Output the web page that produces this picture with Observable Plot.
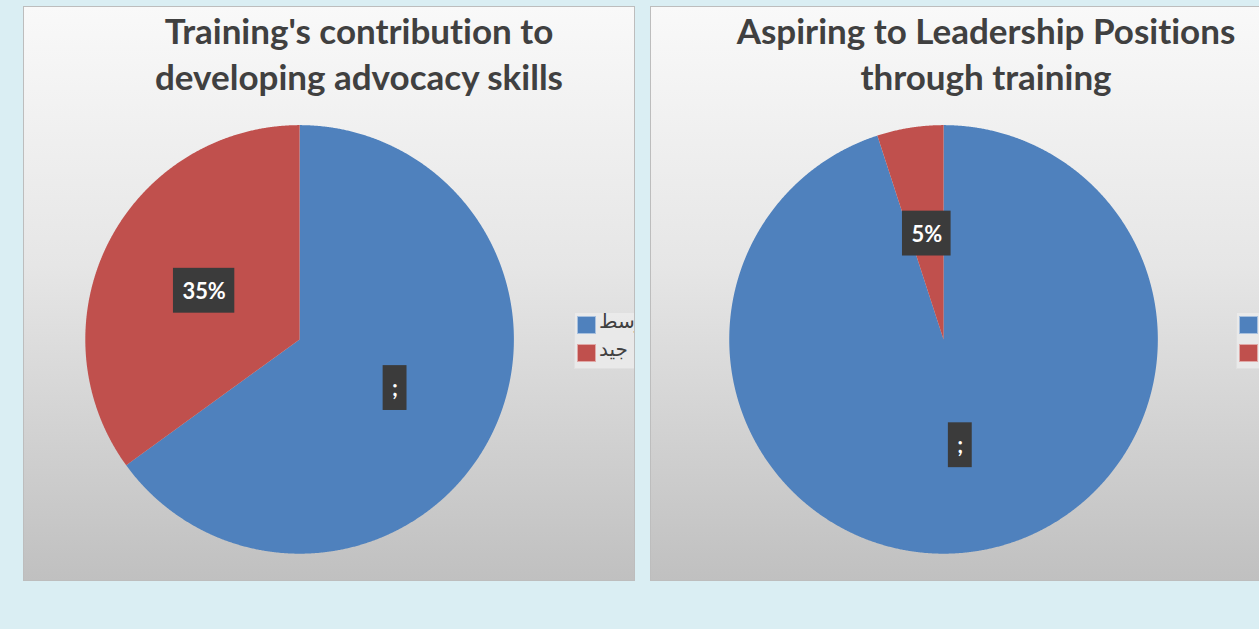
<!DOCTYPE html>
<html>
<head>
<meta charset="utf-8">
<script src="https://cdn.jsdelivr.net/npm/d3@7"></script>
<script src="https://cdn.jsdelivr.net/npm/@observablehq/plot@0.6"></script>
<style>
  html, body { margin: 0; padding: 0; }
  body { width: 1259px; height: 629px; background: #daeef3; position: relative; overflow: hidden; font-family: Lato, "Open Sans", sans-serif; }
  .panel { position: absolute; top: 6px; height: 575px; box-sizing: border-box; border: 1px solid #bdbdbd;
           background: linear-gradient(to bottom, #f9f9f9 0%, #e6e6e6 45%, #c0c0c0 100%); overflow: hidden; }
  .panel svg { position: absolute; left: 0; top: 0; }
  .title { position: absolute; top: 0px; width: 640px; text-align: center; font-weight: 700; font-size: 35px;
           line-height: 46px; color: #404040; white-space: nowrap; font-variant-ligatures: none; }
  .legend { position: absolute; background: rgba(235,235,235,0.85); border: 1px solid #e0e0e0; box-sizing: border-box; padding: 2px 0 0 2px; }
  .legend .item { position: relative; height: 28px; white-space: nowrap; }
  .legend .sw { position: absolute; left: 0; top: 1px; width: 19px; height: 18px; box-sizing: border-box; border: 1px solid rgba(255,255,255,0.5); }
  .legend .lab { position: absolute; left: 22px; top: -6px; font-family: "DejaVu Sans", "Noto Sans", sans-serif; font-size: 20px; color: #404040; direction: rtl; unicode-bidi: plaintext; }
</style>
</head>
<body>
<script>
// ---- data ----
const categories = ["متوسط", "جيد"];
const sliceColors = ["#4f81bd", "#c0504d"];
const advocacyTitle = ["Training's contribution to", "developing advocacy skills"];
const advocacyShares = [65, 35];
const advocacyLabels = [";", "35%"];
const leadershipTitle = ["Aspiring to Leadership Positions", "through training"];
const leadershipShares = [95, 5];
const leadershipLabels = [";", "5%"];

// ---- layout (styles, not data) ----
const panelW = 612, panelH = 575, radius = 215;
const panels = [
  {left: 23, title: advocacyTitle, shares: advocacyShares, labels: advocacyLabels, cx: 276, cy: 333, legendX: 550, legendW: 100},
  {left: 650, title: leadershipTitle, shares: leadershipShares, labels: leadershipLabels, cx: 293, cy: 333, legendX: 585, legendW: 100}
];

const measureCtx = document.createElement("canvas").getContext("2d");
measureCtx.font = "700 22px Lato";

function buildPanel(p) {
  const div = document.createElement("div");
  div.className = "panel";
  div.style.left = p.left + "px";
  div.style.width = panelW + "px";
  document.body.appendChild(div);

  const total = d3.sum(p.shares);
  // slice polygons from shares
  const slices = [];
  const labelRows = [];
  let acc = 0;
  p.shares.forEach((v, i) => {
    const a0 = acc / total * 2 * Math.PI;
    acc += v;
    const a1 = acc / total * 2 * Math.PI;
    const pts = [{k: i, x: 0, y: 0, color: sliceColors[i]}];
    const n = Math.max(2, Math.ceil((a1 - a0) / (Math.PI / 720)));
    for (let j = 0; j <= n; j++) {
      const a = a0 + (a1 - a0) * j / n;
      pts.push({k: i, x: Math.sin(a), y: Math.cos(a), color: sliceColors[i]});
    }
    pts.push({k: i, x: 0, y: 0, color: sliceColors[i]});
    slices.push(...pts);
    const am = (a0 + a1) / 2;
    const lx = 0.5 * Math.sin(am), ly = 0.5 * Math.cos(am);
    const wPx = measureCtx.measureText(p.labels[i]).width + 18;
    const hPx = 45;
    labelRows.push({text: p.labels[i], x: lx, y: ly,
      x1: lx - wPx / 2 / radius, x2: lx + wPx / 2 / radius,
      y1: ly - hPx / 2 / radius, y2: ly + hPx / 2 / radius});
  });

  const svg = Plot.plot({
    width: panelW, height: panelH,
    margin: 0,
    style: {background: "transparent", overflow: "visible"},
    x: {domain: [-1, 1], range: [p.cx - radius, p.cx + radius], axis: null},
    y: {domain: [-1, 1], range: [p.cy + radius, p.cy - radius], axis: null},
    color: {type: "identity"},
    marks: [
      Plot.line(slices, {x: "x", y: "y", z: "k", fill: "color", stroke: "none", curve: "linear"}),
      Plot.rect(labelRows, {x1: "x1", x2: "x2", y1: "y1", y2: "y2", fill: "#3b3b3b"}),
      Plot.text(labelRows, {x: "x", y: "y", text: "text", fill: "white", fontSize: 22, fontWeight: 700,
        fontFamily: "Lato, 'Open Sans', sans-serif", dy: 1})
    ]
  });
  div.appendChild(svg);

  const title = document.createElement("div");
  title.className = "title";
  title.style.left = (335 - 320) + "px";
  title.innerHTML = p.title.map(t => t.replace(/&/g, "&amp;")).join("<br>");
  div.appendChild(title);

  const legend = document.createElement("div");
  legend.className = "legend";
  legend.style.left = p.legendX + "px";
  legend.style.top = "305px";
  legend.style.width = p.legendW + "px";
  legend.style.height = "57px";
  categories.forEach((c, i) => {
    const item = document.createElement("div");
    item.className = "item";
    const sw = document.createElement("div");
    sw.className = "sw";
    sw.style.background = sliceColors[i];
    const lab = document.createElement("div");
    lab.className = "lab";
    lab.textContent = c;
    item.appendChild(sw);
    item.appendChild(lab);
    legend.appendChild(item);
  });
  div.appendChild(legend);
}

panels.forEach(buildPanel);
</script>
</body>
</html>
